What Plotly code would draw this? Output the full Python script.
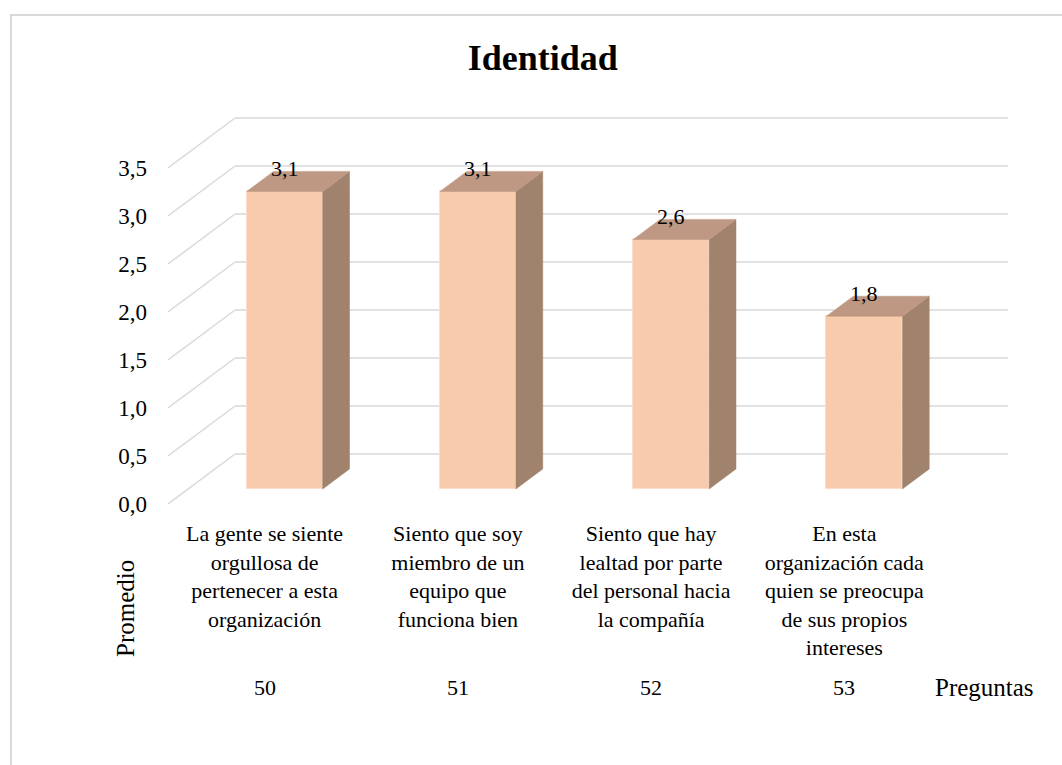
import plotly.graph_objects as go

# Survey averages per question
preguntas = ["50", "51", "52", "53"]
enunciados = [
    "La gente se siente<br>orgullosa de<br>pertenecer a esta<br>organización",
    "Siento que soy<br>miembro de un<br>equipo que<br>funciona bien",
    "Siento que hay<br>lealtad por parte<br>del personal hacia<br>la compañía",
    "En esta<br>organización cada<br>quien se preocupa<br>de sus propios<br>intereses",
]
promedios = [3.1, 3.1, 2.6, 1.8]
ticks_y = [0.0, 0.5, 1.0, 1.5, 2.0, 2.5, 3.0, 3.5]

# Pseudo-3D geometry (in axis units)
DEPTH_X = 0.347      # full depth of the floor, horizontal component
DEPTH_Y = 0.521      # full depth of the floor, vertical component
BAR_FRONT = 0.30     # where the bar front face sits inside the depth
BAR_DEPTH = 0.40     # bar thickness as a fraction of the depth
BAR_W = 0.393

FONT = "Liberation Serif"
FRONT_C = "#F8CBAD"
SIDE_C = "#A1826C"
TOP_C = "#BE9882"
GRID_C = "#D9D9D9"

n = len(promedios)
fx = BAR_FRONT * DEPTH_X
fy = BAR_FRONT * DEPTH_Y
dx = BAR_DEPTH * DEPTH_X
dy = BAR_DEPTH * DEPTH_Y

centers = [i + 0.5 for i in range(n)]
bar_x = [c + fx for c in centers]

fig = go.Figure()

# Front faces
fig.add_trace(go.Bar(
    x=bar_x, y=promedios, base=[fy] * n, width=BAR_W,
    marker=dict(color=FRONT_C, line=dict(color="#FADDCB", width=1)),
    hoverinfo="skip", showlegend=False,
))

# Side and top faces
for xc, v in zip(bar_x, promedios):
    xl, xr = xc - BAR_W / 2, xc + BAR_W / 2
    y0, y1 = fy, fy + v
    fig.add_trace(go.Scatter(
        x=[xr, xr + dx, xr + dx, xr, xr],
        y=[y0, y0 + dy, y1 + dy, y1, y0],
        fill="toself", fillcolor=SIDE_C, mode="lines",
        line=dict(color=SIDE_C, width=0.5),
        hoverinfo="skip", showlegend=False,
    ))
    fig.add_trace(go.Scatter(
        x=[xl, xr, xr + dx, xl + dx, xl],
        y=[y1, y1, y1 + dy, y1 + dy, y1],
        fill="toself", fillcolor=TOP_C, mode="lines",
        line=dict(color=TOP_C, width=0.5),
        hoverinfo="skip", showlegend=False,
    ))

shapes = []
# Gridlines: diagonal on the side wall, then across the back wall
for t in ticks_y:
    shapes.append(dict(type="line", xref="x", yref="y", layer="below",
                       x0=0, y0=t, x1=DEPTH_X, y1=t + DEPTH_Y,
                       line=dict(color=GRID_C, width=1.5)))
    shapes.append(dict(type="line", xref="x", yref="y", layer="below",
                       x0=DEPTH_X, y0=t + DEPTH_Y, x1=n + DEPTH_X, y1=t + DEPTH_Y,
                       line=dict(color=GRID_C, width=1.5)))

# Chart frame
shapes.append(dict(type="rect", xref="paper", yref="paper",
                   x0=-0.187, y0=-0.70, x1=1.08, y1=1.241,
                   line=dict(color=GRID_C, width=2), fillcolor="rgba(0,0,0,0)",
                   layer="below"))

annotations = []
# Value labels
for xc, v in zip(bar_x, promedios):
    annotations.append(dict(x=xc, y=v + fy, xref="x", yref="y",
                            text=f"{v:.1f}".replace(".", ","), showarrow=False,
                            yshift=23, font=dict(family=FONT, size=22, color="#000")))
# Question numbers
for c, p in zip(centers, preguntas):
    annotations.append(dict(x=c, y=0, xref="x", yref="y", text=p, showarrow=False,
                            yshift=-183, xanchor="center", yanchor="middle",
                            font=dict(family=FONT, size=22, color="#000")))
annotations.append(dict(x=0.9726, y=0, xref="paper", yref="y", text="Preguntas",
                        showarrow=False, yshift=-183, xanchor="center", yanchor="middle",
                        font=dict(family=FONT, size=25, color="#000")))
annotations.append(dict(x=-0.0512, y=-0.264, xref="paper", yref="paper",
                        text="Promedio", textangle=-90, showarrow=False,
                        xanchor="center", yanchor="middle",
                        font=dict(family=FONT, size=25, color="#000")))

fig.update_layout(
    width=1062, height=765,
    margin=dict(l=168, r=54, t=110, b=261),
    paper_bgcolor="white", plot_bgcolor="white",
    separators=",.",
    title=dict(text="<b>Identidad</b>", x=0.511, y=0.925, xanchor="center",
               yanchor="middle", font=dict(family=FONT, size=36, color="#000")),
    xaxis=dict(range=[0, n + DEPTH_X], showgrid=False, zeroline=False,
               showline=False, tickvals=centers, ticktext=enunciados,
               ticks="", ticklabelstandoff=14,
               tickfont=dict(family=FONT, size=22, color="#000"), fixedrange=True),
    yaxis=dict(range=[0, 394 / 96], showgrid=False, zeroline=False,
               showline=False, tickvals=ticks_y, tickformat=".1f",
               ticks="", ticklabelstandoff=20,
               tickfont=dict(family=FONT, size=23, color="#000"), fixedrange=True),
    shapes=shapes, annotations=annotations,
    bargap=0,
)

fig.write_html("out.html")
